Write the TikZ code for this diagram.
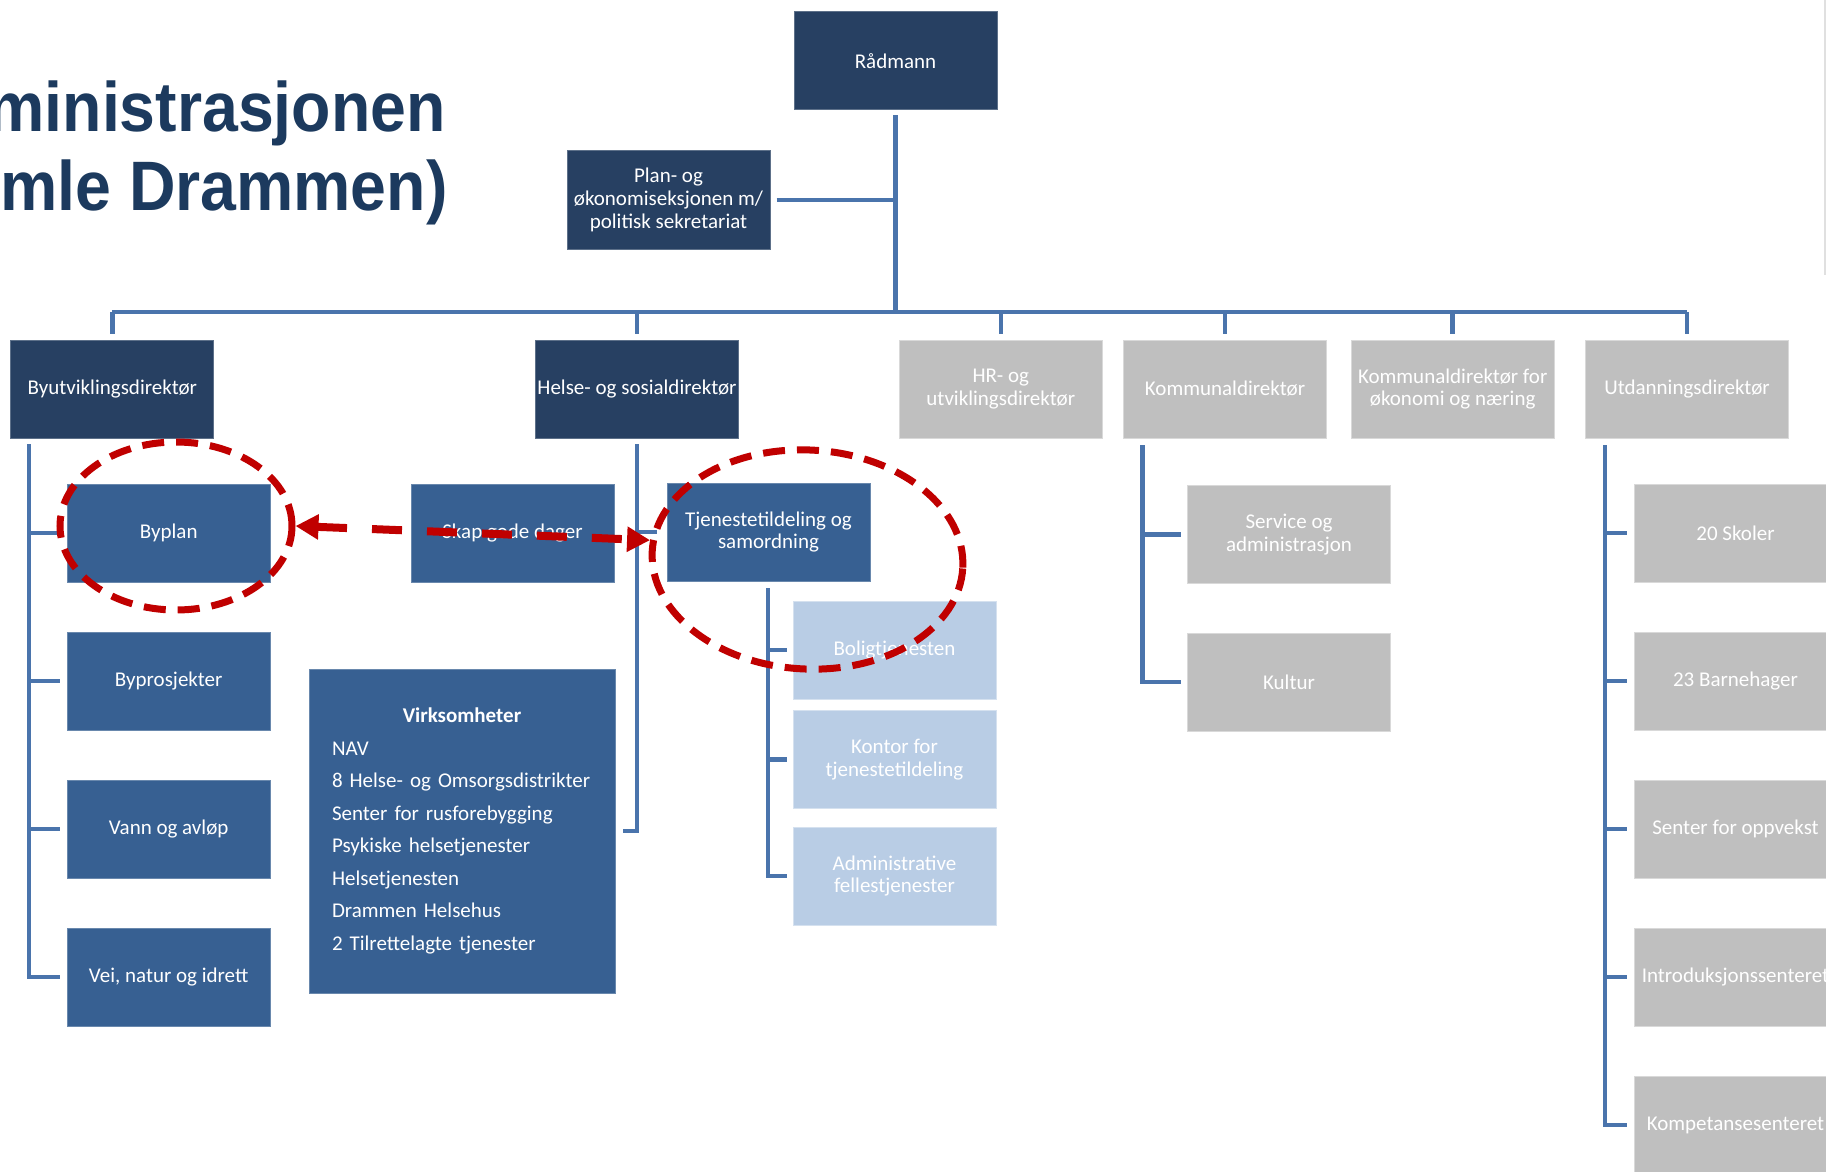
\documentclass[tikz,border=0pt]{standalone}
\usepackage{fontspec}
\setmainfont{Carlito}
\newfontfamily\titlefont[FakeStretch=0.92]{Liberation Sans}
\usetikzlibrary{shapes.geometric,arrows.meta}
\definecolor{navy}{HTML}{274062}
\definecolor{midblue}{HTML}{376092}
\definecolor{lightblue}{HTML}{B9CDE5}
\definecolor{greyfill}{HTML}{BFBFBF}
\definecolor{connblue}{HTML}{4A74AC}
\definecolor{titleblue}{HTML}{1C3A5E}
\definecolor{redmark}{HTML}{C00000}
\begin{document}
\begin{tikzpicture}[x=0.5pt,y=-0.5pt,
  box/.style={minimum width=101.5pt,minimum height=49pt,inner sep=0pt,align=center,
    text=white,font=\fontsize{10.5pt}{11.4pt}\selectfont,line width=0.5pt},
  navybox/.style={box,fill=navy,draw=navy!75!white},
  midbox/.style={box,fill=midblue,draw=midblue!75!white},
  lightbox/.style={box,fill=lightblue,draw=lightblue!60!white},
  greybox/.style={box,fill=greyfill,draw=greyfill!60!white},
  conn/.style={draw=connblue,line width=2.3pt},
  redring/.style={ellipse,draw=redmark,line width=3.5pt,dash pattern=on 11pt off 6pt,
    inner sep=0pt},
  redarrow/.style={draw=redmark,line width=4pt,dash pattern=on 15pt off 12.5pt,
    {Triangle[length=11.5pt,width=12pt]}-{Triangle[length=11.5pt,width=12pt]}},
  titletext/.style={text=titleblue,inner sep=0pt,
    font=\titlefont\bfseries\fontsize{35pt}{39.5pt}\selectfont}
]
\useasboundingbox (0,0) rectangle (1826,1172);
\fill[white] (0,0) rectangle (1826,1172);
\draw[black!12,line width=1pt] (1825,0) -- (1825,275);

% title
\node[titletext,anchor=base east] (title1) at (446,131.6) {ministrasjonen};
\node[titletext,anchor=base east] (title2) at (448,210.8) {mle Drammen)};

% top level
\node[navybox] (rad) at (895.5,61) {Rådmann};
\node[navybox] (plan) at (668.5,200) {Plan- og\\økonomiseksjonen m/\\politisk sekretariat};

% directors
\node[navybox] (byut) at (112.3,389) {Byutviklingsdirektør};
\node[navybox] (helse) at (637,389) {Helse- og sosialdirektør};
\node[greybox] (hr) at (1000.8,389) {HR- og\\utviklingsdirektør};
\node[greybox] (komm) at (1225,389) {Kommunaldirektør};
\node[greybox] (kommok) at (1452.7,389) {Kommunaldirektør for\\økonomi og næring};
\node[greybox] (utd) at (1687,389) {Utdanningsdirektør};

% Byutvikling children
\node[midbox] (byplan) at (168.7,533) {Byplan};
\node[midbox] (byprosj) at (168.7,681) {Byprosjekter};
\node[midbox] (vann) at (168.7,829) {Vann og avløp};
\node[midbox] (vei) at (168.7,977) {Vei, natur og idrett};

% Helse children
\node[midbox] (skap) at (512.5,533) {Skap gode dager};
\node[midbox] (tjen) at (768.5,532) {Tjenestetildeling og\\samordning};
\node[midbox,minimum width=153pt,minimum height=162pt,text width=130pt,inner xsep=11.5pt,
  align=left,font=\fontsize{10.5pt}{16.25pt}\selectfont] (virk) at (462,831)
  {\makebox[\linewidth]{\bfseries Virksomheter}\\NAV\\8 Helse- og Omsorgsdistrikter\\Senter for rusforebygging\\Psykiske helsetjenester\\Helsetjenesten\\Drammen Helsehus\\2 Tilrettelagte tjenester};
\node[lightbox] (bolig) at (894.5,650) {Boligtjenesten};
\node[lightbox] (kontor) at (894.5,759.5) {Kontor for\\tjenestetildeling};
\node[lightbox] (admin) at (894.5,876) {Administrative\\fellestjenester};

% Kommunaldirektør children
\node[greybox] (serv) at (1289,534.5) {Service og\\administrasjon};
\node[greybox] (kultur) at (1289,682) {Kultur};

% Utdanning children
\node[greybox] (skoler) at (1735.5,533) {20 Skoler};
\node[greybox] (barneh) at (1735.5,681) {23 Barnehager};
\node[greybox] (oppvekst) at (1735.5,829) {Senter for oppvekst};
\node[greybox] (intro) at (1735.5,977) {Introduksjonssenteret};
\node[greybox] (kompet) at (1735.5,1125) {Kompetansesenteret};

% connectors top
\coordinate (bar) at (0,312);
\draw[conn] ([yshift=-2.5pt]rad.south) -- (rad.south |- bar);
\draw[conn] ([xshift=3pt]plan.east) -- (plan.east -| rad.south);
\draw[conn] (byut.north |- bar) -- (utd.north |- bar);
\foreach \n in {byut,helse,hr,komm,kommok,utd}
  \draw[conn] (\n.north |- bar) -- ([yshift=3pt]\n.north);

% Byutvikling trunk
\coordinate (bt) at (29,444);
\foreach \n in {byplan,byprosj,vann,vei}
  \draw[conn] (bt) |- ([xshift=-3.5pt]\n.west);

% Helse trunk
\coordinate (ht) at (637,444);
\draw[conn] (ht) |- ([xshift=-5pt]tjen.west);
\draw[conn] (ht) |- ([xshift=3.5pt]virk.east);

% Tjenestetildeling trunk
\coordinate (tt) at (768,588);
\foreach \n in {bolig,kontor,admin}
  \draw[conn] (tt) |- ([xshift=-3pt]\n.west);

% Kommunaldirektør trunk
\coordinate (kt) at (1142.6,445);
\foreach \n in {serv,kultur}
  \draw[conn] (kt) |- ([xshift=-3pt]\n.west);

% Utdanning trunk
\coordinate (ut) at (1605,445);
\foreach \n in {skoler,barneh,oppvekst,intro,kompet}
  \draw[conn] (ut) |- ([xshift=-3.5pt]\n.west);

% red markings
\node[redring,minimum width=116pt,minimum height=84pt] (e1) at (176,526) {};
\node[redring,minimum width=155.5pt,minimum height=109.5pt,rotate=-3] (e2) at (807.5,559.5) {};
\draw[redarrow] (e1.east) -- (e2.176);
\end{tikzpicture}
\end{document}
